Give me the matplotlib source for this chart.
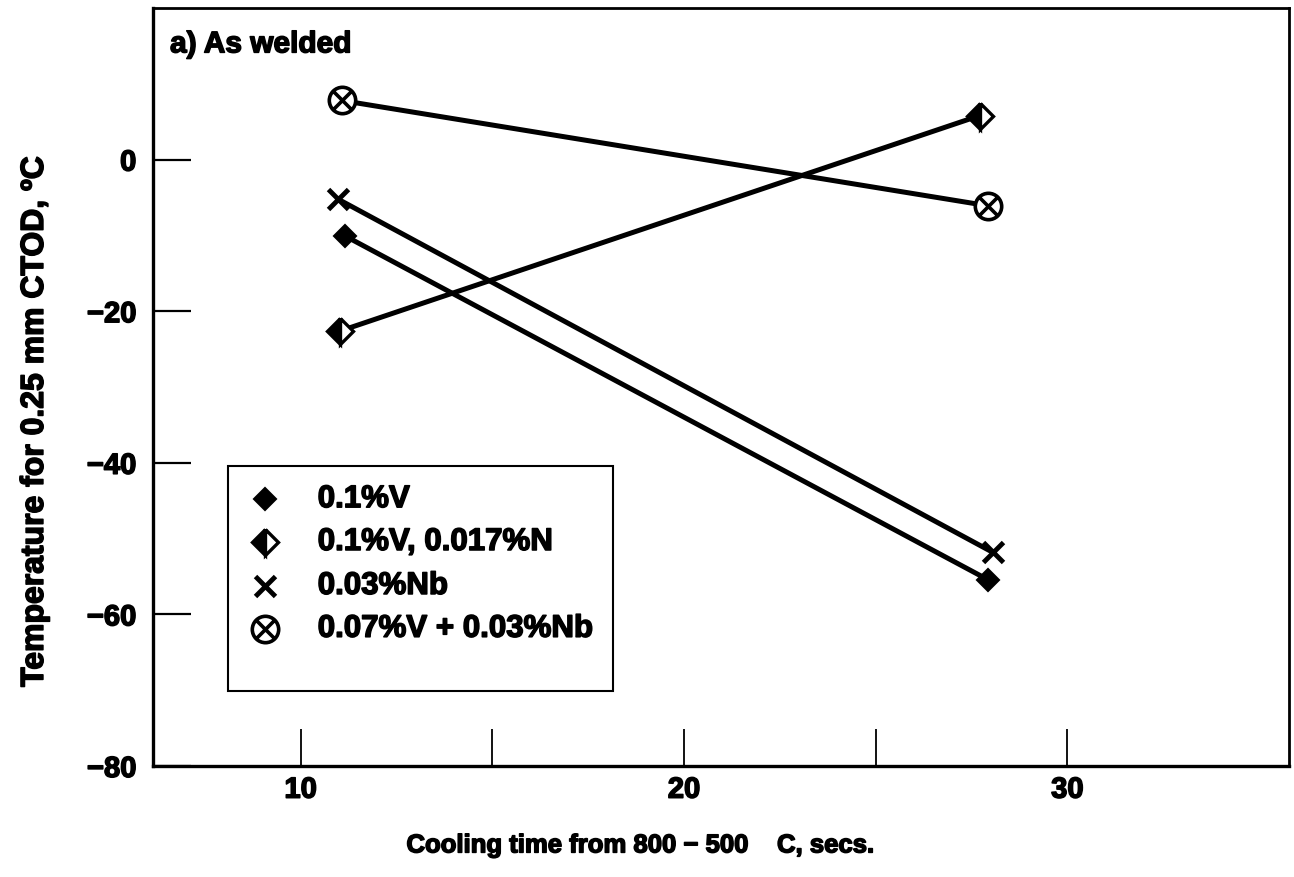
import matplotlib
matplotlib.use("Agg")
import matplotlib.pyplot as plt
import matplotlib.patheffects as pe
from matplotlib.path import Path
from matplotlib.patches import Rectangle

plt.rcParams['font.family'] = ['Liberation Sans', 'DejaVu Sans']
plt.rcParams['font.weight'] = 'bold'

# Cooling time (s) and temperature for 0.25 mm CTOD (°C)
v_time = [11.17, 27.92]
v_temp = [-10.1, -55.4]

vn_time = [11.04, 27.71]
vn_temp = [-22.6, 5.8]

nb_time = [10.97, 28.05]
nb_temp = [-5.2, -51.8]

vnb_time = [11.07, 27.94]
vnb_temp = [7.8, -6.1]

labels = ["0.1%V", "0.1%V, 0.017%N", "0.03%Nb", "0.07%V + 0.03%Nb"]
x_ticks = [10, 15, 20, 25, 30]
x_ticklabels = ["10", "", "20", "", "30"]
y_ticks = [-80, -60, -40, -20, 0]

# heavier lettering
heavy = [pe.withStroke(linewidth=1.1, foreground='black')]

# circle with a cross inside
circ = Path.unit_circle()
d = 0.7071
diag1 = Path([(-d, -d), (d, d)], [Path.MOVETO, Path.LINETO])
diag2 = Path([(-d, d), (d, -d)], [Path.MOVETO, Path.LINETO])
circle_x = Path.make_compound_path(circ, diag1, diag2)

styles = [
    dict(marker='D', ms=11, mfc='black', mec='black', mew=1.5),
    dict(marker='D', ms=13.5, fillstyle='left', mfc='black', markerfacecoloralt='white',
         mec='black', mew=2.4),
    dict(marker='x', ms=15, mec='black', mew=3.5),
    dict(marker=circle_x, ms=19, mfc='white', mec='black', mew=2.6),
]

fig = plt.figure(figsize=(12.94, 8.78), dpi=100)
ax = fig.add_axes([153 / 1294, 1 - 767 / 878, (1289 - 153) / 1294, (767 - 9) / 878])

series = [(v_time, v_temp), (vn_time, vn_temp), (nb_time, nb_temp), (vnb_time, vnb_temp)]
for (t, y), st in zip(series, styles):
    ax.plot(t, y, color='black', lw=3.6, solid_capstyle='butt', zorder=3, **st)

ax.set_xlim(6.15, 35.78)
ax.set_ylim(-80, 20)
ax.set_xticks(x_ticks)
ax.set_xticklabels(x_ticklabels)
ax.set_yticks(y_ticks)
ax.set_yticklabels([str(v).replace('-', '\u2212') for v in y_ticks])

for s in ['top', 'right']:
    ax.spines[s].set_linewidth(2.0)
for s in ['left', 'bottom']:
    ax.spines[s].set_linewidth(2.4)

ax.tick_params(axis='x', direction='in', length=27, width=1.3, pad=7, labelsize=21)
ax.tick_params(axis='y', direction='in', length=27, width=1.6, pad=12, labelsize=21)
for lab in ax.get_xticklabels() + ax.get_yticklabels():
    lab.set_fontweight('bold')
    lab.set_path_effects(heavy)

ax.text(0.015, 0.952, "a) As welded", transform=ax.transAxes, fontsize=21.5,
        fontweight='bold', va='center', ha='left', path_effects=heavy)

# key box
ax.add_patch(Rectangle((0.066, 0.099), 0.339, 0.297, transform=ax.transAxes,
                       facecolor='white', edgecolor='black', lw=1.5, zorder=4))
rows = [0.352, 0.2955, 0.2375, 0.181]
for yy, lab, st in zip(rows, labels, styles):
    ax.plot([0.0986], [yy], transform=ax.transAxes, ls='none', zorder=5,
            clip_on=False, **st)
    ax.text(0.145, yy, lab, transform=ax.transAxes, fontsize=22.5, fontweight='bold',
            va='center', ha='left', zorder=5, path_effects=heavy)

fig.text(0.495, 0.036, "Cooling time from 800 \u2212 500    C, secs.", fontsize=18.5,
         fontweight='bold', ha='center', va='center', path_effects=heavy)
fig.text(0.027, 0.519, "Temperature for 0.25 mm CTOD, \u00baC", fontsize=23,
         fontweight='bold', ha='center', va='center', rotation=90, path_effects=heavy)

fig.savefig("out.png", dpi=100)
